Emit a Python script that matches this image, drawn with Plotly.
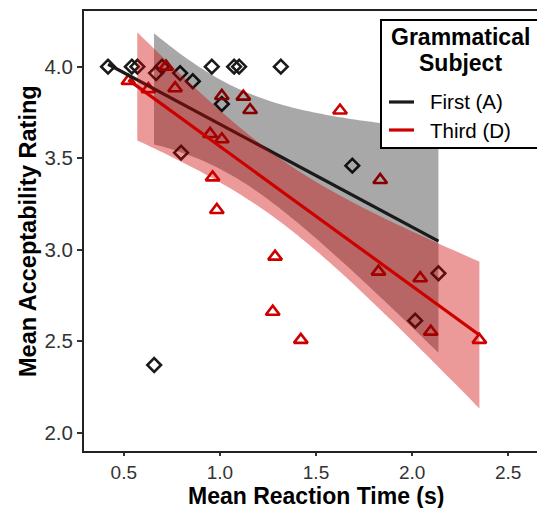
import math
import numpy as np
import plotly.graph_objects as go

# ---- data ----
first_rt = [0.418, 0.542, 0.571, 0.668, 0.699, 0.793, 0.859, 0.958, 1.074, 1.100,
            1.317, 1.010, 0.798, 1.689, 2.137, 2.016, 0.658]
first_rating = [4.00, 4.00, 4.00, 3.965, 4.00, 3.965, 3.92, 4.00, 4.00, 4.00,
                4.00, 3.796, 3.53, 3.459, 2.871, 2.612, 2.37]

third_rt = [0.524, 0.628, 0.720, 0.767, 1.010, 1.122, 1.157, 0.949, 1.010, 0.962,
            0.984, 1.625, 1.834, 1.287, 1.275, 1.421, 1.825, 2.042, 2.097, 2.350]
third_rating = [3.922, 3.877, 4.00, 3.882, 3.840, 3.836, 3.763, 3.632, 3.603, 3.395,
                3.217, 3.760, 3.381, 2.962, 2.661, 2.507, 2.880, 2.844, 2.552, 2.507]

group_names = ["First (A)", "Third (D)"]
x_ticks = [0.5, 1.0, 1.5, 2.0, 2.5]
y_ticks = [2.0, 2.5, 3.0, 3.5, 4.0]
y_limits = [2.0, 4.2]
x_title = "Mean Reaction Time (s)"
y_title = "Mean Acceptability Rating"

FONT = "Liberation Sans, Arial, sans-serif"
BLACK = "#1a1a1a"
RED = "#cd0000"


def t_ppf975(df):
    c = math.gamma((df + 1) / 2) / (math.sqrt(df * math.pi) * math.gamma(df / 2))

    def cdf(t):
        xs = np.linspace(0, t, 2001)
        ys = c * (1 + xs ** 2 / df) ** (-(df + 1) / 2)
        return 0.5 + np.trapezoid(ys, xs)

    lo, hi = 0.0, 10.0
    for _ in range(60):
        mid = (lo + hi) / 2
        if cdf(mid) < 0.975:
            lo = mid
        else:
            hi = mid
    return (lo + hi) / 2


def smooth(x, y, n=80):
    x = np.asarray(x, float)
    y = np.asarray(y, float)
    b, a = np.polyfit(x, y, 1)
    grid = np.linspace(x.min(), x.max(), n)
    fit = a + b * grid
    resid = y - (a + b * x)
    dof = len(x) - 2
    s = math.sqrt((resid ** 2).sum() / dof)
    sxx = ((x - x.mean()) ** 2).sum()
    se = s * np.sqrt(1 / len(x) + (grid - x.mean()) ** 2 / sxx)
    t = t_ppf975(dof)
    return grid, fit, fit - t * se, fit + t * se


fig = go.Figure()

fig.add_trace(go.Scatter(x=first_rt, y=first_rating, mode="markers", name=group_names[0],
                         showlegend=False,
                         marker=dict(symbol="diamond-open", size=10.5, color=BLACK,
                                     line=dict(width=2.6, color=BLACK))))
fig.add_trace(go.Scatter(x=third_rt, y=third_rating, mode="markers", name=group_names[1],
                         showlegend=False,
                         marker=dict(symbol="triangle-up-open", size=12, color=RED,
                                     line=dict(width=2.6, color=RED))))

for xs, ys, col, fill, name in [
    (first_rt, first_rating, BLACK, "rgba(0,0,0,0.34)", group_names[0]),
    (third_rt, third_rating, RED, "rgba(205,0,0,0.40)", group_names[1]),
]:
    g, f, lo, hi = smooth(xs, ys)
    keep = (hi <= y_limits[1]) & (lo >= y_limits[0])
    gx, glo, ghi = g[keep], lo[keep], hi[keep]
    fig.add_trace(go.Scatter(x=np.concatenate([gx, gx[::-1]]),
                             y=np.concatenate([ghi, glo[::-1]]),
                             fill="toself", fillcolor=fill, mode="none",
                             hoverinfo="skip", showlegend=False))
    fig.add_trace(go.Scatter(x=g, y=f, mode="lines", name=name, showlegend=False,
                             line=dict(color=col, width=3.2)))

# ---- layout in target-picture pixels; page places the figure 8px in ----
OFF = 8
W, H = 545, 508
L, R_, T, B = 84, 548, 11, 451   # panel edges in picture pixels


def px(xp):
    return (xp - L) / (R_ - L)


def py(yp):
    return (B - yp) / (B - T)


# manual legend
fig.add_shape(type="rect", xref="paper", yref="paper",
              x0=px(381), x1=px(540), y0=py(148), y1=py(20),
              line=dict(color="black", width=2), fillcolor="white", layer="above")
fig.add_annotation(text="Grammatical", xref="paper", yref="paper", x=px(460), y=py(37),
                   showarrow=False, xanchor="center", yanchor="middle",
                   font=dict(family=FONT, size=23, color="black", weight="bold"))
fig.add_annotation(text="Subject", xref="paper", yref="paper", x=px(460), y=py(63),
                   showarrow=False, xanchor="center", yanchor="middle",
                   font=dict(family=FONT, size=23, color="black", weight="bold"))
for yy, col, name in [(102, BLACK, group_names[0]), (130, RED, group_names[1])]:
    fig.add_shape(type="line", xref="paper", yref="paper", x0=px(389), x1=px(414),
                  y0=py(yy), y1=py(yy), line=dict(color=col, width=3.2), layer="above")
    fig.add_annotation(text=name, xref="paper", yref="paper", x=px(428), y=py(yy),
                       showarrow=False, xanchor="left", yanchor="middle",
                       font=dict(family=FONT, size=20.5, color="black"))

# axis titles
fig.add_annotation(text=x_title, xref="paper", yref="paper", x=px(316), y=py(496),
                   showarrow=False, xanchor="center", yanchor="middle",
                   font=dict(family=FONT, size=23, color="black", weight="bold"))
fig.add_annotation(text=y_title, xref="paper", yref="paper", x=px(28), y=py(231),
                   showarrow=False, xanchor="center", yanchor="middle", textangle=-90,
                   font=dict(family=FONT, size=23.5, color="black", weight="bold"))

fig.update_layout(
    width=W, height=H,
    margin=dict(l=L - OFF, r=W - (R_ - OFF), t=T - OFF, b=H - (B - OFF), autoexpand=False),
    plot_bgcolor="white", paper_bgcolor="white",
    showlegend=False,
    font=dict(family=FONT),
)
fig.update_xaxes(range=[0.293, 2.707], tickvals=x_ticks, ticktext=[f"{v:.1f}" for v in x_ticks],
                 automargin=False,
                 showgrid=False, zeroline=False, showline=True, linewidth=2, linecolor="#222",
                 mirror=True, ticks="outside", ticklen=3, tickwidth=1.5, tickcolor="#333",
                 tickfont=dict(family=FONT, size=19, color="#333"))
fig.update_yaxes(range=[1.9, 4.304], tickvals=y_ticks, ticktext=[f"{v:.1f}" for v in y_ticks],
                 automargin=False,
                 showgrid=False, zeroline=False, showline=True, linewidth=2, linecolor="#222",
                 mirror=False, ticks="outside", ticklen=5, tickwidth=1.5, tickcolor="#333",
                 tickfont=dict(family=FONT, size=20.5, color="#333"))

fig.write_html("out.html")
